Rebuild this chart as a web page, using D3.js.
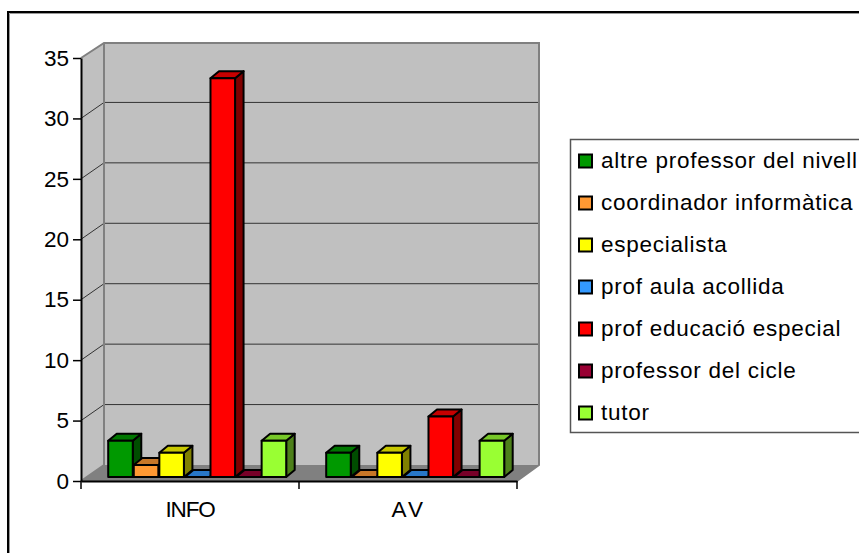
<!DOCTYPE html>
<html>
<head>
<meta charset="utf-8">
<script src="https://cdn.jsdelivr.net/npm/d3@7"></script>
<style>
html, body { margin: 0; padding: 0; background: #fff; overflow: hidden; }
svg { display: block; font-family: "Liberation Sans", Arial, sans-serif; }
</style>
</head>
<body>
<script>
const categories = ["INFO", "AV"];
const seriesNames = [
    "altre professor del nivell",
    "coordinador informàtica",
    "especialista",
    "prof aula acollida",
    "prof educació especial",
    "professor del cicle",
    "tutor"
];
const infoValues = [3, 1, 2, 0, 33, 0, 3];
const avValues = [2, 0, 2, 0, 5, 0, 3];
const seriesColors = ["#009900", "#ff9933", "#ffff00", "#3399ff", "#ff0000", "#990033", "#99ff33"];
const yTicks = [0, 5, 10, 15, 20, 25, 30, 35];

const width = 859, height = 553;
const svg = d3.select("body").append("svg")
    .attr("width", width)
    .attr("height", height);

// outer frame, only top and left are inside the picture
svg.append("path")
    .attr("d", "M 9.5 553 V 13.5 H 859")
    .attr("fill", "none")
    .attr("stroke", "#999")
    .attr("stroke-width", 1);
svg.append("path")
    .attr("d", "M 8 553 V 12 H 859")
    .attr("fill", "none")
    .attr("stroke", "#000")
    .attr("stroke-width", 2);

const y = d3.scaleLinear().domain([0, 35]).range([481, 58]);
const x0 = d3.scaleBand().domain(categories).range([81, 517]);
const x1 = d3.scaleBand().domain(seriesNames).range([27.2, 206.2]);

// wall depth and bar depth
const wallDx = 23, wallDy = -16;
const barDx = 8.5, barDy = -7;
const barLift = 4;

const xL = x0.range()[0], xR = x0.range()[1];
const yB = y(0), yT = y(35);

// side wall
svg.append("polygon")
    .attr("points", [[xL, yT], [xL + wallDx, yT + wallDy + 1], [xL + wallDx, yB + wallDy], [xL, yB]].join(" "))
    .attr("fill", "#c0c0c0");
// back wall
svg.append("rect")
    .attr("x", xL + wallDx)
    .attr("y", yT + wallDy + 1)
    .attr("width", xR - xL - 1)
    .attr("height", yB - yT)
    .attr("fill", "#c0c0c0");
// floor
svg.append("polygon")
    .attr("points", [[xL, yB], [xL + wallDx, yB + wallDy], [xR + wallDx - 1, yB + wallDy], [xR, yB]].join(" "))
    .attr("fill", "#808080");

// gridlines on both walls
svg.selectAll(".grid")
    .data(yTicks.slice(1, -1))
    .enter()
    .append("path")
    .attr("class", "grid")
    .attr("d", d => `M ${xL} ${y(d)} L ${xL + wallDx} ${y(d) + wallDy} H ${xR + wallDx - 1}`)
    .attr("fill", "none")
    .attr("stroke", "#333")
    .attr("stroke-width", 1);

// wall outline
svg.append("path")
    .attr("d", `M ${xL} ${yT} L ${xL + wallDx} ${yT + wallDy + 1} H ${xR + wallDx - 1} V ${yB + wallDy} L ${xR} ${yB}`)
    .attr("fill", "none")
    .attr("stroke", "#808080")
    .attr("stroke-width", 2);
svg.append("path")
    .attr("d", `M ${xL + wallDx} ${yT + wallDy + 1} V ${yB + wallDy} L ${xL} ${yB}`)
    .attr("fill", "none")
    .attr("stroke", "#808080")
    .attr("stroke-width", 2);

// bars
const groups = [infoValues, avValues];
const barW = x1.bandwidth() - 1;
groups.forEach((vals, g) => {
    const gx = x0(categories[g]);
    vals.forEach((v, i) => {
        const bx = gx + x1(seriesNames[i]);
        const top = y(v) - barLift;
        const bot = y(0) - barLift;
        const col = d3.rgb(seriesColors[i]);
        const faces = svg.append("g")
            .attr("stroke", "#000")
            .attr("stroke-width", 2)
            .attr("stroke-linejoin", "round");
        // side
        faces.append("polygon")
            .attr("points", [[bx + barW, top], [bx + barW + barDx, top + barDy], [bx + barW + barDx, bot + barDy], [bx + barW, bot]].join(" "))
            .attr("fill", d3.rgb(col.r * 0.5, col.g * 0.5, col.b * 0.5));
        // top
        faces.append("polygon")
            .attr("points", [[bx, top], [bx + barDx, top + barDy], [bx + barW + barDx, top + barDy], [bx + barW, top]].join(" "))
            .attr("fill", d3.rgb(col.r * 0.78, col.g * 0.78, col.b * 0.78));
        // front
        faces.append("rect")
            .attr("x", bx)
            .attr("y", top)
            .attr("width", barW)
            .attr("height", bot - top)
            .attr("fill", seriesColors[i]);
    });
});

// y axis
const yAxis = svg.append("g")
    .attr("transform", `translate(${xL},0)`)
    .call(d3.axisLeft(y).tickValues(yTicks).tickSize(8).tickPadding(4).tickSizeOuter(0));
yAxis.select(".domain").attr("stroke", "#000").attr("stroke-width", 2);
yAxis.selectAll(".tick line").attr("stroke", "#000").attr("stroke-width", 1.5);
yAxis.selectAll("text")
    .attr("font-family", "Liberation Sans")
    .attr("font-size", 22.5)
    .attr("fill", "#000");

// x axis, ticks sit between the categories
const xAxis = svg.append("g")
    .attr("transform", `translate(0,${yB})`)
    .call(d3.axisBottom(x0).tickSize(0).tickPadding(20).tickSizeOuter(0));
xAxis.select(".domain").attr("stroke", "#000").attr("stroke-width", 2);
xAxis.selectAll("text")
    .attr("font-family", "Liberation Sans")
    .attr("font-size", 22.5)
    .attr("letter-spacing", d => d === "INFO" ? -1.2 : 1.5)
    .style("font-kerning", "none")
    .attr("fill", "#000");
svg.selectAll(".xtick")
    .data([xL, x0(categories[1]), xR])
    .enter()
    .append("line")
    .attr("class", "xtick")
    .attr("x1", d => d)
    .attr("x2", d => d)
    .attr("y1", yB)
    .attr("y2", yB + 8)
    .attr("stroke", "#000")
    .attr("stroke-width", 1.5);

// legend
const legendY = d3.scalePoint().domain(seriesNames).range([161, 413]);
svg.append("path")
    .attr("d", "M 859 139.5 H 570.5 V 432.5 H 859")
    .attr("fill", "#fff")
    .attr("stroke", "#555")
    .attr("stroke-width", 1.5);
svg.selectAll(".swatch")
    .data(seriesNames)
    .enter()
    .append("rect")
    .attr("class", "swatch")
    .attr("x", 579)
    .attr("y", d => legendY(d) - 6.5)
    .attr("width", 13)
    .attr("height", 13)
    .attr("fill", (d, i) => seriesColors[i])
    .attr("stroke", "#000")
    .attr("stroke-width", 2);
svg.selectAll(".legend-label")
    .data(seriesNames)
    .enter()
    .append("text")
    .attr("class", "legend-label")
    .attr("x", 601)
    .attr("y", d => legendY(d) + 6.5)
    .attr("font-size", 22.5)
    .attr("letter-spacing", 0.74)
    .attr("fill", "#000")
    .text(d => d);
</script>
</body>
</html>
